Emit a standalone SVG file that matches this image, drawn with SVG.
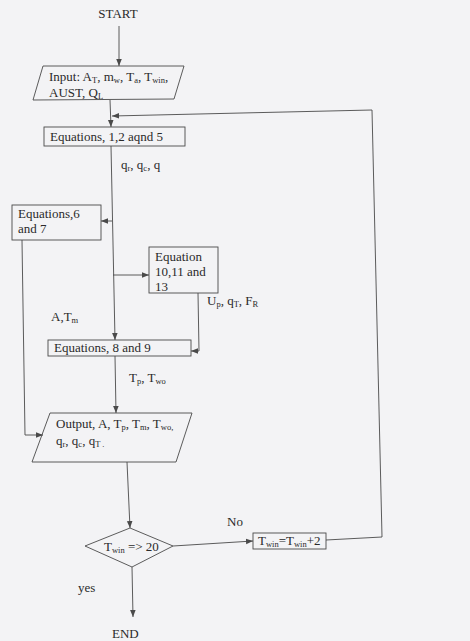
<svg xmlns="http://www.w3.org/2000/svg" width="470" height="641" viewBox="0 0 470 641">
<style>
text{font-family:"Liberation Serif","Times New Roman",serif;font-size:13px;fill:#2a2a2a}
.s{font-size:8.5px}
.box{fill:none;stroke:#4a4a4a;stroke-width:0.9}
.c{fill:none;stroke:#4a4a4a;stroke-width:0.9}
</style>
<defs>
<marker id="ah" viewBox="0 0 10 10" refX="10" refY="5" markerWidth="7" markerHeight="7" orient="auto" markerUnits="userSpaceOnUse">
<path d="M0,1 L10,5 L0,9 Z" fill="#4a4a4a"/>
</marker>
</defs>
<rect width="470" height="641" fill="#f3f3f5"/>

<g id="connectors">
<line class="c" x1="119" y1="26" x2="119" y2="66" marker-end="url(#ah)"/>
<line class="c" x1="110" y1="100" x2="111" y2="127" marker-end="url(#ah)"/>
<polyline class="c" points="326,540 382,537 372,110 112,116" marker-end="url(#ah)"/>
<line class="c" x1="111" y1="146" x2="115" y2="340" marker-end="url(#ah)"/>
<line class="c" x1="112" y1="221" x2="101" y2="221" marker-end="url(#ah)"/>
<line class="c" x1="113" y1="275" x2="149" y2="275" marker-end="url(#ah)"/>
<polyline class="c" points="198,293 199,351 191,351" marker-end="url(#ah)"/>
<line class="c" x1="115" y1="356" x2="116" y2="413" marker-end="url(#ah)"/>
<polyline class="c" points="22,240 25,435 43,435" marker-end="url(#ah)"/>
<line class="c" x1="127" y1="462" x2="130" y2="528" marker-end="url(#ah)"/>
<line class="c" x1="173" y1="546" x2="253" y2="541" marker-end="url(#ah)"/>
<line class="c" x1="132" y1="567" x2="133" y2="617" marker-end="url(#ah)"/>
</g>

<g id="start"><text x="118" y="18" text-anchor="middle">START</text></g>

<g id="input">
<polygon class="box" points="43,66 184,66 174,99 33,100"/>
<text x="49" y="81">Input: A<tspan class="s" dy="2">T</tspan><tspan dy="-2">, m</tspan><tspan class="s" dy="2">w</tspan><tspan dy="-2">, T</tspan><tspan class="s" dy="2">a</tspan><tspan dy="-2">, T</tspan><tspan class="s" dy="2">win</tspan><tspan dy="-2">,</tspan></text>
<text x="49" y="97">AUST, Q<tspan class="s" dy="2">L</tspan></text>
</g>

<g id="eq125">
<rect class="box" x="44" y="127" width="141" height="19"/>
<text x="50" y="141">Equations, 1,2 aqnd 5</text>
</g>

<g id="lbl-q"><text x="121" y="169">q<tspan class="s" dy="2">r</tspan><tspan dy="-2">, q</tspan><tspan class="s" dy="2">c</tspan><tspan dy="-2">, q</tspan></text></g>

<g id="eq67">
<rect class="box" x="12" y="205" width="89" height="35"/>
<text x="18" y="218">Equations,6</text>
<text x="18" y="233">and 7</text>
</g>

<g id="eq1013">
<rect class="box" x="149" y="247" width="69" height="46"/>
<text x="155" y="261">Equation</text>
<text x="155" y="276">10,11 and</text>
<text x="155" y="291">13</text>
</g>

<g id="lbl-up"><text x="207" y="305">U<tspan class="s" dy="2">p</tspan><tspan dy="-2">, q</tspan><tspan class="s" dy="2">T</tspan><tspan dy="-2">, F</tspan><tspan class="s" dy="2">R</tspan></text></g>

<g id="lbl-atm"><text x="51" y="321">A,T<tspan class="s" dy="2">m</tspan></text></g>

<g id="eq89">
<rect class="box" x="48" y="340" width="143" height="16"/>
<text x="54" y="352">Equations, 8 and 9</text>
</g>

<g id="lbl-tp"><text x="129" y="382">T<tspan class="s" dy="2">p</tspan><tspan dy="-2">, T</tspan><tspan class="s" dy="2">wo</tspan></text></g>

<g id="output">
<polygon class="box" points="50,413 192,413 176,462 32,462"/>
<text x="56" y="428">Output, A, T<tspan class="s" dy="2">p</tspan><tspan dy="-2">, T</tspan><tspan class="s" dy="2">m</tspan><tspan dy="-2">, T</tspan><tspan class="s" dy="2">wo,</tspan></text>
<text x="56" y="445">q<tspan class="s" dy="2">r</tspan><tspan dy="-2">, q</tspan><tspan class="s" dy="2">c</tspan><tspan dy="-2">, q</tspan><tspan class="s" dy="2">T .</tspan></text>
</g>

<g id="decision">
<polygon class="box" points="130,528 173,546 132,567 85,546"/>
<text x="104" y="551">T<tspan class="s" dy="2">win</tspan><tspan dy="-2"> =&gt; 20</tspan></text>
</g>

<g id="lbl-no"><text x="227" y="526">No</text></g>

<g id="incr">
<rect class="box" x="253" y="533" width="73" height="16"/>
<text x="258" y="545">T<tspan class="s" dy="2">win</tspan><tspan dy="-2">=T</tspan><tspan class="s" dy="2">win</tspan><tspan dy="-2">+2</tspan></text>
</g>

<g id="lbl-yes"><text x="78" y="592">yes</text></g>

<g id="end"><text x="112" y="638">END</text></g>
</svg>
